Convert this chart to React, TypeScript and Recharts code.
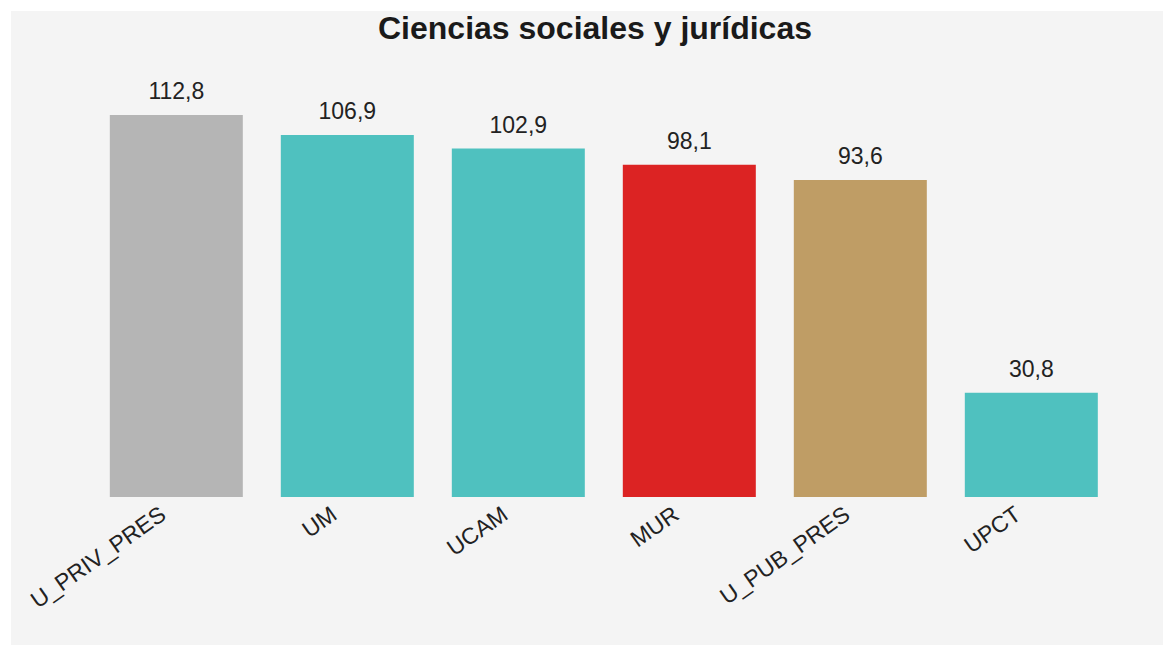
import { Bar, BarChart, Cell, LabelList, XAxis, YAxis } from 'recharts';

const universities = ['U_PRIV_PRES', 'UM', 'UCAM', 'MUR', 'U_PUB_PRES', 'UPCT'];
const values = [112.8, 106.9, 102.9, 98.1, 93.6, 30.8];
const barColors = ['#b5b5b5', '#4fc1bf', '#4fc1bf', '#dc2323', '#bf9d65', '#4fc1bf'];

const data = universities.map((name, i) => ({ name, value: values[i] }));

const font = 'Liberation Sans, Arial, Helvetica, sans-serif';

function RotatedTick(props: any) {
  const { x, y, payload } = props;
  return (
    <g transform={`translate(${x - 9},${y + 13})`}>
      <text
        textAnchor="end"
        transform="rotate(-35)"
        fontSize={23}
        fontFamily={font}
        fill="#222"
      >
        {payload.value}
      </text>
    </g>
  );
}

export default function App() {
  return (
    <div style={{ position: 'absolute', left: 0, top: 0, width: 1163, height: 645, background: '#fff' }}>
      <div style={{ position: 'absolute', left: 11, top: 11, width: 1152, height: 634, background: '#f4f4f4' }} />
      <div
        style={{
          position: 'absolute',
          left: 0,
          top: 12,
          width: 1190,
          textAlign: 'center',
          fontFamily: font,
          fontWeight: 'bold',
          fontSize: 32,
          lineHeight: '32px',
          color: '#1a1a1a',
        }}
      >
        Ciencias sociales y jurídicas
      </div>
      <div style={{ position: 'absolute', left: 0, top: 0 }}>
        <BarChart
          width={1163}
          height={645}
          data={data}
          margin={{ top: 115, right: 46, bottom: 0, left: 91 }}
          barCategoryGap="11%"
        >
          <XAxis
            dataKey="name"
            height={148}
            axisLine={false}
            tickLine={false}
            interval={0}
            tick={<RotatedTick />}
          />
          <YAxis hide domain={[0, 'dataMax']} />
          <Bar dataKey="value" isAnimationActive={false}>
            {data.map((d, i) => (
              <Cell key={d.name} fill={barColors[i]} />
            ))}
            <LabelList
              dataKey="value"
              position="top"
              offset={16}
              fontSize={23}
              fontFamily={font}
              fill="#222"
              formatter={(v: any) => String(v).replace('.', ',')}
            />
          </Bar>
        </BarChart>
      </div>
    </div>
  );
}
